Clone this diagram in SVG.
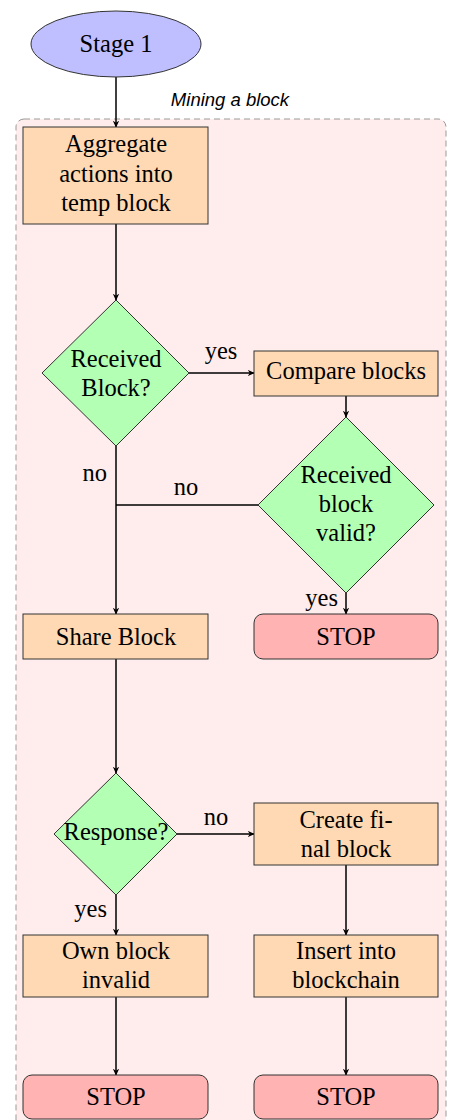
<svg xmlns="http://www.w3.org/2000/svg" width="449" height="1120" viewBox="0 0 449 1120">
<defs>
<marker id="ah" viewBox="0 0 10 10" refX="9" refY="5" markerWidth="7" markerHeight="7" orient="auto" markerUnits="userSpaceOnUse">
<path d="M0,0.5 L10,5 L0,9.5 L3,5 Z" fill="#000"/>
</marker>
<style>
.t{font-family:"Liberation Serif","Times New Roman",serif;font-size:24.5px;fill:#000;text-anchor:middle}
.lb{font-family:"Liberation Serif","Times New Roman",serif;font-size:24.5px;fill:#000}
.box{fill:#ffd9b3;stroke:#333;stroke-width:1}
.dia{fill:#b3ffb3;stroke:#333;stroke-width:1}
.stop{fill:#ffb3b3;stroke:#333;stroke-width:1}
.c{fill:none;stroke:#000;stroke-width:1.5}
.ca{fill:none;stroke:#000;stroke-width:1.5;marker-end:url(#ah)}
</style>
</defs>
<rect width="449" height="1120" fill="#fff"/>
<g id="container">
<rect x="16" y="119" width="430" height="1020" rx="8" fill="#ffecec" stroke="#999" stroke-width="1" stroke-dasharray="6 4"/>
<text x="230" y="106" style="font-family:'Liberation Sans',Arial,sans-serif;font-size:18.5px;font-style:italic;text-anchor:middle">Mining a block</text>
</g>
<g id="connectors">
<path class="ca" d="M116,77 V127"/>
<path class="ca" d="M116,224 V300"/>
<path class="ca" d="M189,373 H254"/>
<path class="ca" d="M346,396 V417"/>
<path class="c" d="M258,505 H116"/>
<path class="ca" d="M116,446 V614"/>
<path class="ca" d="M346,593 V614"/>
<path class="ca" d="M116,659 V773"/>
<path class="ca" d="M177,834 H254"/>
<path class="ca" d="M116,895 V935"/>
<path class="ca" d="M346,865 V935"/>
<path class="ca" d="M116,997 V1075"/>
<path class="ca" d="M346,997 V1075"/>
<text class="lb" x="221" y="359" text-anchor="middle">yes</text>
<text class="lb" x="107" y="481" text-anchor="end">no</text>
<text class="lb" x="186" y="495" text-anchor="middle">no</text>
<text class="lb" x="338" y="606" text-anchor="end">yes</text>
<text class="lb" x="216" y="825" text-anchor="middle">no</text>
<text class="lb" x="107" y="917" text-anchor="end">yes</text>
</g>
<g id="stage1">
<ellipse cx="116" cy="44" rx="85" ry="33" fill="#bfbfff" stroke="#333" stroke-width="1"/>
<text class="t" x="116" y="52">Stage 1</text>
</g>
<g id="aggregate">
<rect class="box" x="23" y="127" width="185" height="97"/>
<text class="t" x="116" y="152">Aggregate</text>
<text class="t" x="116" y="182">actions into</text>
<text class="t" x="116" y="211">temp block</text>
</g>
<g id="received">
<polygon class="dia" points="116,300 189,373 116,446 42,373"/>
<text class="t" x="116" y="367">Received</text>
<text class="t" x="116" y="396">Block?</text>
</g>
<g id="compare">
<rect class="box" x="254" y="351" width="184" height="45"/>
<text class="t" x="346" y="379">Compare blocks</text>
</g>
<g id="valid">
<polygon class="dia" points="346,417 434,505 346,593 258,505"/>
<text class="t" x="346" y="483">Received</text>
<text class="t" x="346" y="512">block</text>
<text class="t" x="346" y="541">valid?</text>
</g>
<g id="share">
<rect class="box" x="23" y="614" width="185" height="45"/>
<text class="t" x="116" y="645">Share Block</text>
</g>
<g id="stop1">
<rect class="stop" x="254" y="614" width="184" height="45" rx="9"/>
<text class="t" x="346" y="645">STOP</text>
</g>
<g id="response">
<polygon class="dia" points="116,773 177,834 116,895 54,834"/>
<text class="t" x="116" y="840">Response?</text>
</g>
<g id="create">
<rect class="box" x="254" y="803" width="184" height="62"/>
<text class="t" x="346" y="828">Create fi-</text>
<text class="t" x="346" y="857">nal block</text>
</g>
<g id="own">
<rect class="box" x="23" y="935" width="185" height="62"/>
<text class="t" x="116" y="959">Own block</text>
<text class="t" x="116" y="988">invalid</text>
</g>
<g id="insert">
<rect class="box" x="254" y="935" width="184" height="62"/>
<text class="t" x="346" y="959">Insert into</text>
<text class="t" x="346" y="988">blockchain</text>
</g>
<g id="stop2">
<rect class="stop" x="23" y="1075" width="185" height="44" rx="9"/>
<text class="t" x="116" y="1105">STOP</text>
</g>
<g id="stop3">
<rect class="stop" x="254" y="1075" width="184" height="44" rx="9"/>
<text class="t" x="346" y="1105">STOP</text>
</g>
</svg>
